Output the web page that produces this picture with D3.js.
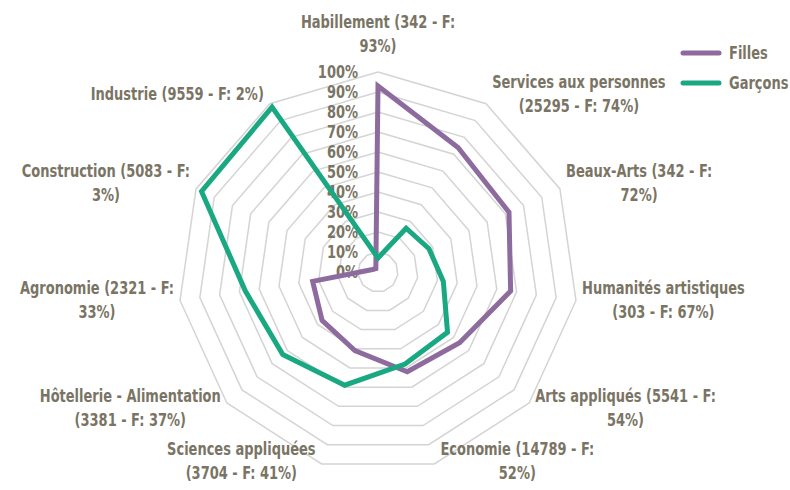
<!DOCTYPE html>
<html>
<head>
<meta charset="utf-8">
<title>Filles / Garçons par domaine</title>
<script src="https://cdn.jsdelivr.net/npm/d3@7"></script>
<style>
  body { margin: 0; background: #fff; }
  text { font-family: "DejaVu Sans Condensed", "Liberation Sans Narrow", sans-serif; font-weight: bold; fill: #7a7464; }
</style>
</head>
<body>
<svg id="chart" width="790" height="490"></svg>
<script>
// categories, clockwise from the top
var categories = ["Habillement", "Services aux personnes", "Beaux-Arts", "Humanités artistiques",
  "Arts appliqués", "Economie", "Sciences appliquées", "Hôtellerie - Alimentation",
  "Agronomie", "Construction", "Industrie"];
var effectifs = [342, 25295, 342, 303, 5541, 14789, 3704, 3381, 2321, 5083, 9559];
var filles = [93, 74, 72, 67, 54, 52, 41, 37, 33, 3, 2];
var garcons = [7, 26, 28, 33, 46, 48, 59, 63, 67, 97, 98];
var tickValues = [0, 10, 20, 30, 40, 50, 60, 70, 80, 90, 100];
// how each category label breaks over lines
var labelLines = [
  ["Habillement (342 - F:", "93%)"],
  ["Services aux personnes", "(25295 - F: 74%)"],
  ["Beaux-Arts (342 - F:", "72%)"],
  ["Humanités artistiques", "(303 - F: 67%)"],
  ["Arts appliqués (5541 - F:", "54%)"],
  ["Economie (14789 - F:", "52%)"],
  ["Sciences appliquées", "(3704 - F: 41%)"],
  ["Hôtellerie - Alimentation", "(3381 - F: 37%)"],
  ["Agronomie (2321 - F:", "33%)"],
  ["Construction (5083 - F:", "3%)"],
  ["Industrie (9559 - F: 2%)"]
];
var seriesNames = ["Filles", "Garçons"];
var colors = ["#8d6b9f", "#1aa882"];

var svg = d3.select("#chart"),
    cx = 378, cy = 272, R = 200,
    sx = 0.85; // narrow the text like the condensed face of the original

var r = d3.scaleLinear().domain([0, 100]).range([0, R]);
var angle = d3.scalePoint().domain(d3.range(categories.length))
    .range([0, 2 * Math.PI * (categories.length - 1) / categories.length]);

var g = svg.append("g").attr("transform", "translate(" + cx + "," + cy + ")");

// grid rings
var ring = d3.lineRadial().curve(d3.curveLinearClosed)
    .angle(function(d, i) { return angle(i); });
g.selectAll(".ring")
  .data(tickValues.slice(1))
  .enter().append("path")
    .attr("fill", "none")
    .attr("stroke", "#d4d4d4")
    .attr("stroke-width", 1.5)
    .attr("d", function(v) { return ring.radius(r(v))(categories); });

// tick labels
g.selectAll(".tick")
  .data(tickValues)
  .enter().append("text")
    .attr("transform", function(v) { return "translate(-20," + -r(v) + ") scale(" + sx + ",1)"; })
    .attr("dy", "0.36em")
    .attr("text-anchor", "end")
    .style("font-size", "17px")
    .text(function(v) { return v + "%"; });

// series
var line = d3.lineRadial().curve(d3.curveLinearClosed)
    .angle(function(d, i) { return angle(i); })
    .radius(function(d) { return r(d); });

g.selectAll(".serie")
  .data([filles, garcons])
  .enter().append("path")
    .attr("fill", "none")
    .attr("stroke", function(d, i) { return colors[i]; })
    .attr("stroke-width", 5)
    .attr("d", line);

// category labels
var lh = 24;
categories.forEach(function(c, i) {
  var a = angle(i),
      s = Math.abs(Math.sin(a)) < 0.05 ? 0 : Math.sign(Math.sin(a)),
      vx = Math.sin(a) * R,
      vy = -Math.cos(a) * R,
      lines = labelLines[i],
      h = lines.length * lh;
  var t = g.append("text")
      .attr("text-anchor", "middle")
      .style("font-size", "17px");
  lines.forEach(function(l, j) {
    t.append("tspan").attr("x", 0).attr("dy", j ? lh : 0).text(l);
  });
  var w = t.node().getBBox().width * sx;
  var bx = vx + s * (w / 2 + 6),
      by = s ? vy - Math.cos(a) * 10 : vy - Math.cos(a) * (h / 2 + 12);
  // keep the bottom labels inside the picture
  by = Math.min(by, 490 - cy - h / 2 - 3);
  t.attr("transform", "translate(" + bx + "," + (by - h / 2 + lh * 0.68) + ") scale(" + sx + ",1)");
});

// legend
var legend = svg.append("g").attr("transform", "translate(681,53)");
seriesNames.forEach(function(n, i) {
  var lg = legend.append("g").attr("transform", "translate(0," + i * 30 + ")");
  lg.append("line")
    .attr("x1", 2).attr("x2", 38)
    .attr("stroke", colors[i])
    .attr("stroke-width", 5)
    .attr("stroke-linecap", "round");
  lg.append("text")
    .attr("transform", "translate(48,0) scale(" + sx + ",1)")
    .attr("dy", "0.36em")
    .style("font-size", "17px")
    .text(n);
});
</script>
</body>
</html>
